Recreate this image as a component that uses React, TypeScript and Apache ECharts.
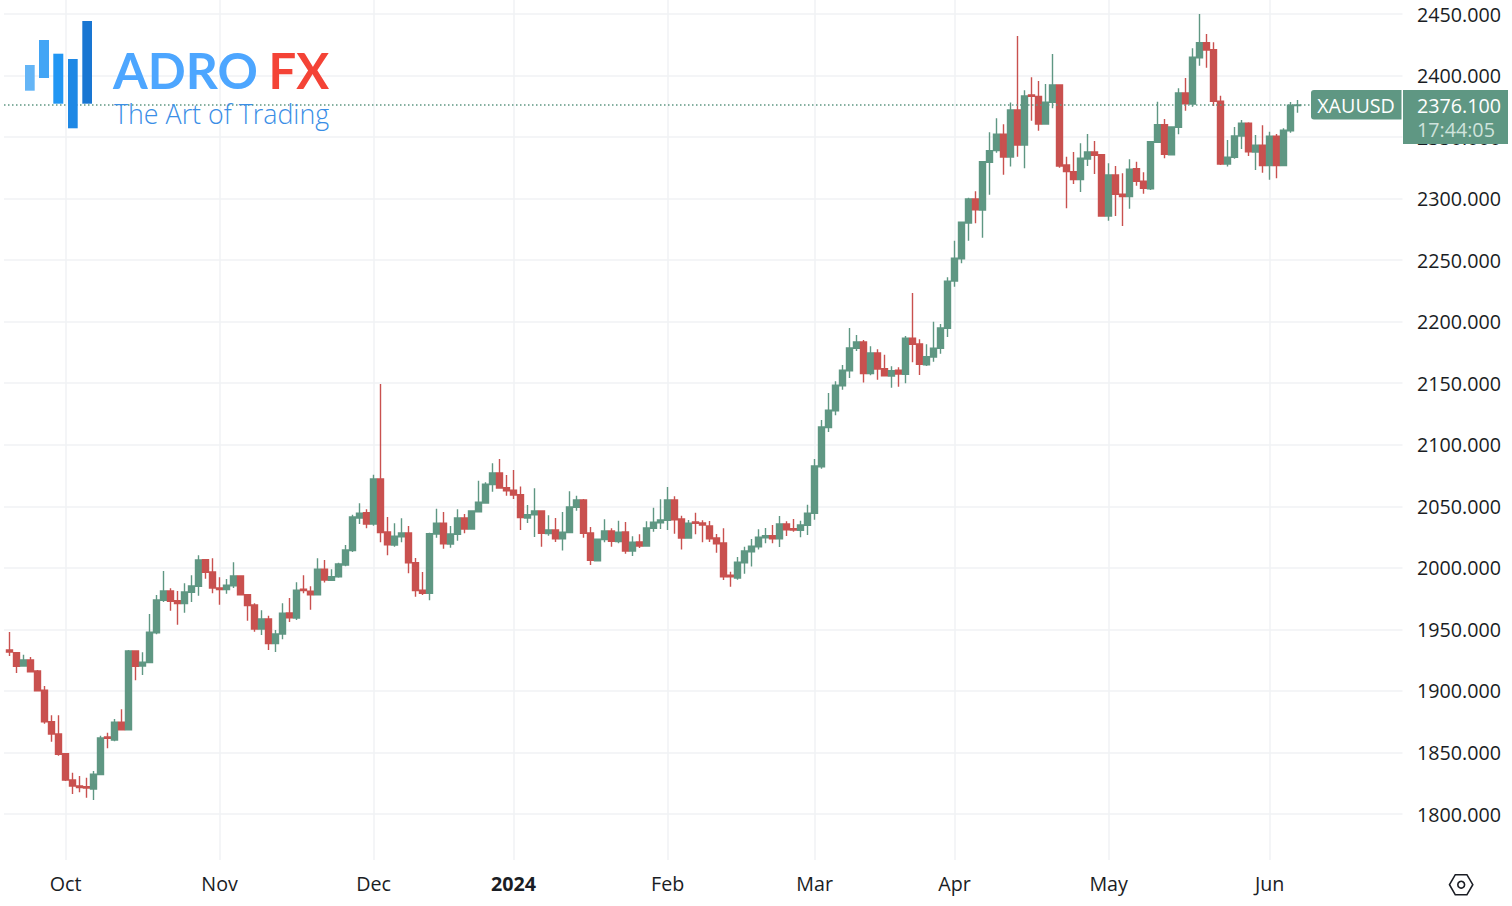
import React, { useEffect, useRef } from "react";
import * as echarts from "echarts";

// Each row: [open, close, low, high]
const sepCandles = [
  [1933.3,1931.6,1928.4,1947.9],[1931.1,1920.0,1914.6,1931.6],[1920.2,1925.1,1920,1929.4],[1925.1,1915.6,1915.4,1927.6],
  [1916.2,1900.2,1900,1917],[1900.5,1875,1873.4,1904],[1875,1865,1858.8,1880.2],[1865,1848.5,1847.4,1880.2],
];
const octCandles = [
  [1849,1827.6,1826.8,1849.6],[1827.6,1822.8,1816.3,1833.6],[1822.8,1821.4,1817.7,1830.9],[1822.2,1821.1,1813.3,1829.5],
  [1820.3,1832.3,1811.4,1835],[1832,1861.8,1831.7,1863.6],[1862.6,1861.5,1853.4,1866.1],[1860.1,1874.5,1859.1,1877.2],
  [1874.5,1868.5,1868.3,1885.1],[1868.5,1932.5,1868.3,1933.3],[1932.5,1920,1908.6,1932.6],[1920.3,1923.3,1913,1931.4],
  [1923,1947.7,1922.7,1962.5],[1947.3,1973.9,1946,1978],[1973.7,1981.2,1972.3,1997.5],[1981.2,1972.8,1965.2,1983.4],
  [1973.3,1970.9,1953.8,1981.2],[1970.9,1980.4,1963.6,1987.5],[1980.2,1985.3,1972.3,1994],[1985,2006.4,1977.4,2010.2],
  [2006.6,1996.4,1991.2,2007.2],[1996.6,1983.6,1979.3,2007.8],
];
const novCandles = [
  [1983.6,1982.3,1970.1,1992.4],[1982.3,1985.8,1979,1991],[1985.5,1993.4,1983.6,2004.5],[1993.4,1978.2,1978,1993.6],
  [1978.2,1969.3,1957.1,1978.8],[1969.8,1950.3,1948.1,1971.2],[1950.3,1958.5,1945.5,1965.5],[1958.5,1938.4,1933.3,1961.1],
  [1938.4,1946.3,1931.6,1949.5],[1946.3,1963.1,1942,1971.2],[1963.3,1959.5,1956,1975.5],[1959.3,1981.8,1957.6,1988.3],
  [1982.6,1981.5,1979.3,1994],[1981,1978,1966,1985],[1978,1998.8,1977.8,2007.8],[1998.8,1990.1,1988,2006.4],
  [1989.9,1992.8,1989.7,1998.8],[1992.8,2003.1,1992,2004.2],[2002.3,2014.5,2001.3,2018.6],[2014,2041.3,2012.9,2043.2],
  [2040.5,2044.3,2035.6,2052.5],[2044.8,2035.6,2032.2,2047.6],
];
const decCandles = [
  [2035.6,2072.2,2034.3,2075.7],[2072.2,2028.6,2020.8,2149.4],[2029.1,2018.8,2010.2,2041.3],[2018.6,2025.7,2017.2,2036.2],
  [2025.3,2028.3,2020.8,2040.3],[2028.3,2004.2,1995.6,2034],[2004.2,1981.5,1976.6,2008],[1981.8,1979.3,1978,1996.6],
  [1979.3,2027.8,1973.7,2028.6],[2027.5,2036.2,2024.5,2048.1],[2036.2,2019.6,2015.6,2045.4],[2019.4,2027.5,2016.4,2034],
  [2027.3,2040.5,2022.1,2047.6],[2040.5,2031.6,2028.1,2043.8],[2031.6,2046.2,2031.4,2046.6],[2045.6,2053.3,2045.4,2070.8],
  [2052.7,2067.9,2052.5,2069.5],[2067.6,2077.1,2061.9,2085],[2077.1,2064.9,2064.3,2088.5],[2065.1,2062.7,2058.6,2075.5],
];
const janCandles = [
  [2063,2059.2,2056,2079.5],[2059.4,2040.8,2030.8,2066],[2040.5,2043.2,2036.5,2051],[2043,2046.2,2025.1,2064.7],
  [2046.2,2028.1,2017.2,2046.4],[2027.8,2030.8,2026.1,2042.7],[2030.8,2023.5,2021,2040.5],[2023.5,2028.9,2014,2045.4],
  [2028.6,2049.5,2028.3,2062.2],[2049.2,2055.1,2046.4,2058.6],[2055.1,2028.1,2024.5,2056],[2028.3,2006.1,2002.3,2033.2],
  [2005.8,2023.2,2005.5,2023.5],[2022.9,2030,2020.8,2039.5],[2030,2021.6,2017.2,2032.2],[2021.3,2028.9,2020,2038.3],
  [2029.1,2013.7,2011.5,2037.3],[2013.7,2020.8,2009.6,2025.7],[2021,2017.8,2016.1,2027.3],[2017.8,2032.4,2017.6,2037.8],
  [2032.2,2037,2029.4,2048.9],[2036.5,2038.9,2031.6,2055.7],
];
const febCandles = [
  [2038.6,2055.1,2030.8,2065.7],[2055.1,2039.1,2027.8,2058.2],[2039.7,2024.3,2015,2042.4],[2024.3,2036.2,2023.7,2038.9],
  [2037.3,2036.2,2027.3,2044.8],[2036.5,2034.8,2020.8,2038.6],[2034,2023.7,2021,2038.1],[2024.3,2019.6,2012.3,2027.5],
  [2020.2,1992.8,1990.1,2032.2],[1994,1992.8,1984.7,1996.9],[1991.8,2004.5,1990.4,2008.8],[2004,2013.7,1995.2,2017.2],
  [2013.1,2017.5,2001,2023.5],[2017.2,2024.8,2015,2031.3],[2024.5,2026.1,2020,2032.4],[2026.1,2023.7,2020,2034.8],
  [2023.7,2035.6,2016.9,2042.1],[2035.6,2031,2025.9,2037.8],[2031.8,2030.8,2029.4,2039.7],[2030.5,2034.8,2024.8,2038.3],
  [2034.6,2044.5,2026.7,2051.3],
];
const marCandles = [
  [2044.3,2082.8,2039.1,2088.5],[2082.2,2114.4,2080.6,2120.1],[2113.9,2128,2110.4,2142.1],[2127.7,2148.3,2124,2151.6],
  [2148,2160.5,2144.8,2164.8],[2160.2,2178.6,2154.3,2194.9],[2178.4,2183.5,2176.2,2189.2],[2183.5,2157.8,2150.5,2185.1],
  [2157.8,2174.6,2156.5,2180],[2174.6,2161.6,2152.9,2177.6],[2161.8,2156.1,2155.9,2173.2],[2155.9,2160.2,2146.4,2163.8],
  [2160.5,2157.5,2147.2,2163],[2157.3,2186.5,2150,2188.4],[2186.5,2181.6,2167,2223.3],[2181.9,2165.4,2156.7,2185.7],
  [2165,2171.6,2164,2181.6],[2171.3,2178.4,2167.5,2200],[2178.4,2194.9,2174,2198.1],[2194.7,2232.8,2187.6,2236.1],
];
const aprCandles = [
  [2233.1,2251.5,2228.4,2265.8],[2251.2,2280.8,2247.4,2281.3],[2280.2,2299.7,2265.8,2300.8],[2299.7,2291,2280,2306],
  [2290.8,2330,2268.3,2330.6],[2329.5,2339,2303.2,2353.9],[2339,2352.3,2337.3,2365.3],[2352.3,2333.8,2319.4,2360.4],
  [2333.8,2372,2326,2378],[2372,2343.6,2334.1,2432.1],[2343.6,2383.4,2324.7,2388],[2384.2,2383.1,2363.3,2398.6],
  [2383.1,2360.6,2355.2,2395.6],[2360.6,2378.3,2360.4,2393.1],[2378.3,2392.3,2373.4,2417.5],[2392.3,2326.5,2325.1,2392.5],
  [2327.3,2321.9,2292.2,2334.1],[2321.9,2315.4,2311.9,2337.9],[2315.4,2332.8,2305.4,2345],[2332.2,2337.9,2326.5,2352.5],
  [2337.9,2335.2,2320,2346.8],[2335.7,2285.9,2285.7,2336.3],
];
const mayCandles = [
  [2285.9,2319.2,2282.1,2328.7],[2319.2,2303.5,2285.9,2326.5],[2303.5,2301.6,2277.8,2320.6],[2301.6,2324,2291.8,2332],
  [2324.3,2314.1,2310.5,2330],[2314.1,2308.4,2304,2321.4],[2308,2346.3,2307,2346.8],[2345.8,2360,2345.6,2378.8],
  [2360,2336,2332.8,2364.7],[2335.7,2358.2,2335.5,2358.6],[2358,2385.8,2352.3,2389.6],[2385.8,2377.1,2371.4,2398],
  [2376.9,2414.8,2374.7,2422.1],[2414.5,2426.7,2408,2450],[2426.7,2420.8,2406.4,2433.8],[2421,2379.1,2375.3,2427],
  [2379.1,2328.1,2327.3,2383.6],[2328.1,2333.6,2326,2347.6],[2333.6,2350.9,2332.4,2358.2],[2350.9,2361.2,2340.3,2363.9],
  [2361.2,2338.1,2334.6,2362],[2337.9,2343.3,2323.3,2351.7],[2343.3,2326.8,2321.1,2359.6],
];
const junCandles = [
  [2326.8,2350.7,2315.4,2354.4],[2350.7,2326.8,2316.5,2352.5],[2326.8,2355.5,2326.5,2357.1],[2355.2,2375.8,2353.6,2378.5],
  [2375.6,2376.1,2369.8,2380.1],
];

const monthIndex = [8, 30, 52, 72, 94, 115, 135, 157, 180];
const monthLabels = ["Oct", "Nov", "Dec", "2024", "Feb", "Mar", "Apr", "May", "Jun"];
const priceTicks = [1800, 1850, 1900, 1950, 2000, 2050, 2100, 2150, 2200, 2250, 2300, 2350, 2400, 2450];
const lastPrice = 2376.1;
const symbolName = "XAUUSD";
const countdown = "17:44:05";

const GREEN = "#5f9783";
const RED = "#c9514f";
const GRID = "#f1f2f4";
const INK = "#1a1d24";
const FONT = '"Open Sans"';

export default function App() {
  const ref = useRef<HTMLDivElement>(null);
  useEffect(() => {
    const chart = echarts.init(ref.current!, undefined, { renderer: "svg" });
    const rows = [
      ...sepCandles, ...octCandles, ...novCandles, ...decCandles, ...janCandles,
      ...febCandles, ...marCandles, ...aprCandles, ...mayCandles, ...junCandles,
    ];
    const data = rows.map((r, i) => [i, r[0], r[1], r[2], r[3]]);
    const logoBars = [
      { x: 25, y: 65, w: 9.7, h: 25.7, c: "#64b5f6" },
      { x: 39, y: 40, w: 10, h: 38, c: "#42a5f5" },
      { x: 53.3, y: 53.7, w: 10, h: 50, c: "#2196f3" },
      { x: 68, y: 59, w: 9.7, h: 69.3, c: "#1e88e5" },
      { x: 82.3, y: 21, w: 9.7, h: 82.7, c: "#1976d2" },
    ];
    chart.setOption({
      animation: false,
      backgroundColor: "#ffffff",
      grid: { left: 4, top: 0, width: 1398.5, height: 860, containLabel: false },
      xAxis: {
        type: "value",
        min: -0.8,
        max: 198.98,
        axisLine: { show: false },
        axisTick: { show: false, customValues: monthIndex },
        splitLine: { show: true, lineStyle: { color: GRID, width: 1.5 } },
        axisLabel: {
          customValues: monthIndex,
          color: INK,
          fontFamily: FONT,
          fontSize: 19.7,
          margin: 13,
          hideOverlap: false,
          formatter: (v: number) => {
            const label = monthLabels[monthIndex.indexOf(v)] ?? "";
            return /^\d+$/.test(label) ? `{b|${label}}` : label;
          },
          rich: { b: { fontWeight: "bold", fontFamily: FONT, fontSize: 19.7, color: INK } },
        },
      },
      yAxis: {
        type: "value",
        position: "right",
        min: 1762.625,
        max: 2461.375,
        scale: true,
        axisLine: { show: false },
        axisTick: { show: false, customValues: priceTicks },
        splitLine: { show: true, lineStyle: { color: GRID, width: 1.5 } },
        axisLabel: {
          customValues: priceTicks,
          color: INK,
          fontFamily: FONT,
          fontSize: 19.7,
          margin: 14.5,
          padding: [0, 0, 2, 0],
          formatter: (v: number) => v.toFixed(3),
        },
      },
      series: [
        {
          type: "candlestick",
          data,
          barWidth: 6.5,
          itemStyle: {
            color: GREEN,
            color0: RED,
            borderColor: GREEN,
            borderColor0: RED,
            borderWidth: 1.4,
          },
          markLine: {
            silent: true,
            symbol: "none",
            label: { show: false },
            lineStyle: { color: GREEN, type: [1.5, 2.5], width: 1.5 },
            data: [[{ coord: [-0.8, lastPrice] }, { coord: [186.2, lastPrice] }]],
          },
        },
      ],
      graphic: [
        ...logoBars.map((b) => ({
          type: "rect",
          z: 20,
          shape: { x: b.x, y: b.y, width: b.w, height: b.h },
          style: { fill: b.c },
        })),
        {
          type: "text", z: 21, x: 113, y: 70,
          style: { text: "ADRO", fill: "#4da6ff", font: '700 50px Lato', textVerticalAlign: "middle" },
        },
        {
          type: "text", z: 21, x: 268.5, y: 70,
          style: { text: "FX", fill: "#f44336", font: '700 49px Lato', textVerticalAlign: "middle" },
        },
        {
          type: "text", z: 21, x: 114, y: 113.5,
          style: { text: "The Art of Trading", fill: "#3a8ee6", font: '300 26.8px "Open Sans"', textVerticalAlign: "middle" },
        },
        {
          type: "rect", z: 30,
          shape: { x: 1311, y: 90, width: 90.5, height: 29.5, r: [3, 0, 0, 3] },
          style: { fill: GREEN },
        },
        {
          type: "text", z: 31, x: 1356, y: 105,
          style: { text: symbolName, fill: "#ffffff", font: '19.7px "Open Sans"', textAlign: "center", textVerticalAlign: "middle" },
        },
        {
          type: "rect", z: 30,
          shape: { x: 1403, y: 90, width: 105, height: 54 },
          style: { fill: GREEN },
        },
        {
          type: "text", z: 31, x: 1417, y: 105,
          style: { text: lastPrice.toFixed(3), fill: "#ffffff", font: '19.7px "Open Sans"', textVerticalAlign: "middle" },
        },
        {
          type: "text", z: 31, x: 1417, y: 129.5,
          style: { text: countdown, fill: "#cfe3dc", font: '19.7px "Open Sans"', textVerticalAlign: "middle" },
        },
        {
          type: "polygon", z: 31,
          shape: { points: [[1449.5, 884.7], [1455.3, 874.7], [1466.9, 874.7], [1472.8, 884.7], [1466.9, 894.8], [1455.3, 894.8]] },
          style: { fill: "none", stroke: INK, lineWidth: 1.6 },
        },
        {
          type: "circle", z: 31,
          shape: { cx: 1461.2, cy: 884.7, r: 3.4 },
          style: { fill: "none", stroke: INK, lineWidth: 1.6 },
        },
      ],
    });
    return () => chart.dispose();
  }, []);
  return (
    <div
      ref={ref}
      style={{ position: "absolute", left: 0, top: 0, width: 1512, height: 906, background: "#fff" }}
    />
  );
}
